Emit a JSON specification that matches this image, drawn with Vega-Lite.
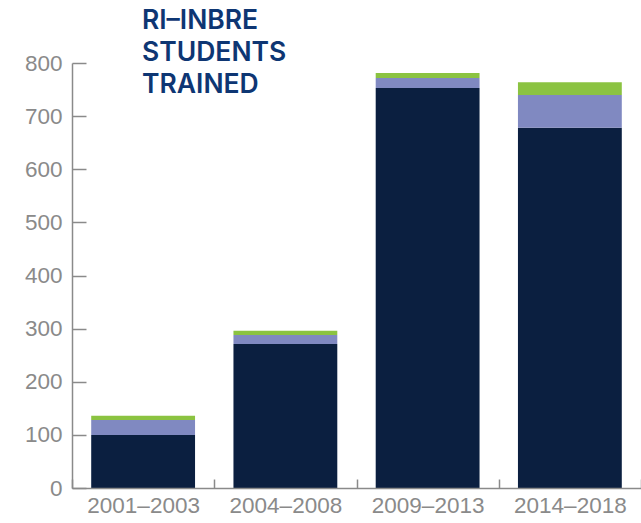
{
  "$schema": "https://vega.github.io/schema/vega-lite/v6.json",
  "width": 569,
  "height": 425,
  "autosize": {"type": "none"},
  "padding": {"left": 72, "top": 63, "right": 0, "bottom": 35},
  "background": "white",
  "title": {
    "text": ["RI–INBRE", "STUDENTS", "TRAINED"],
    "anchor": "start",
    "frame": "group",
    "orient": "top",
    "font": "Inter",
    "fontWeight": 600,
    "fontSize": 26.5,
    "lineHeight": 32,
    "color": "#0e3673",
    "dx": 70,
    "baseline": "top",
    "offset": -46
  },
  "data": {
    "values": [
      {"period": "2001–2003", "group": "Group A", "rank": 1, "students": 100},
      {"period": "2001–2003", "group": "Group B", "rank": 2, "students": 28},
      {"period": "2001–2003", "group": "Group C", "rank": 3, "students": 8},
      {"period": "2004–2008", "group": "Group A", "rank": 1, "students": 271},
      {"period": "2004–2008", "group": "Group B", "rank": 2, "students": 17},
      {"period": "2004–2008", "group": "Group C", "rank": 3, "students": 8},
      {"period": "2009–2013", "group": "Group A", "rank": 1, "students": 753},
      {"period": "2009–2013", "group": "Group B", "rank": 2, "students": 19},
      {"period": "2009–2013", "group": "Group C", "rank": 3, "students": 9},
      {"period": "2014–2018", "group": "Group A", "rank": 1, "students": 678},
      {"period": "2014–2018", "group": "Group B", "rank": 2, "students": 62},
      {"period": "2014–2018", "group": "Group C", "rank": 3, "students": 24}
    ]
  },
  "mark": {"type": "bar", "width": {"band": 0.73}},
  "encoding": {
    "x": {
      "field": "period",
      "type": "nominal",
      "sort": null,
      "scale": {"paddingInner": 0, "paddingOuter": 0},
      "axis": {
        "title": null,
        "labelAngle": 0,
        "labelFont": "Liberation Sans",
        "labelFontSize": 22.5,
        "labelColor": "#8a8a8a",
        "domainColor": "#8a8a8a",
        "domainWidth": 1.5,
        "ticks": true,
        "tickColor": "#8a8a8a",
        "tickWidth": 1.5,
        "tickSize": -9,
        "tickBand": "extent",
        "labelPadding": 15,
        "zindex": 1
      }
    },
    "y": {
      "field": "students",
      "type": "quantitative",
      "stack": "zero",
      "scale": {"domain": [0, 800], "nice": false},
      "axis": {
        "title": null,
        "values": [0, 100, 200, 300, 400, 500, 600, 700, 800],
        "grid": false,
        "labelFont": "Liberation Sans",
        "labelFontSize": 22.5,
        "labelColor": "#8a8a8a",
        "domainColor": "#8a8a8a",
        "domainWidth": 1.5,
        "ticks": true,
        "tickColor": "#8a8a8a",
        "tickWidth": 1.5,
        "tickSize": -14,
        "labelPadding": 24,
        "zindex": 1
      }
    },
    "color": {
      "field": "group",
      "type": "nominal",
      "scale": {"domain": ["Group A", "Group B", "Group C"], "range": ["#0b1f40", "#8089c1", "#8bc341"]},
      "legend": null
    },
    "order": {"field": "rank", "type": "quantitative"}
  },
  "config": {"view": {"stroke": null}}
}
